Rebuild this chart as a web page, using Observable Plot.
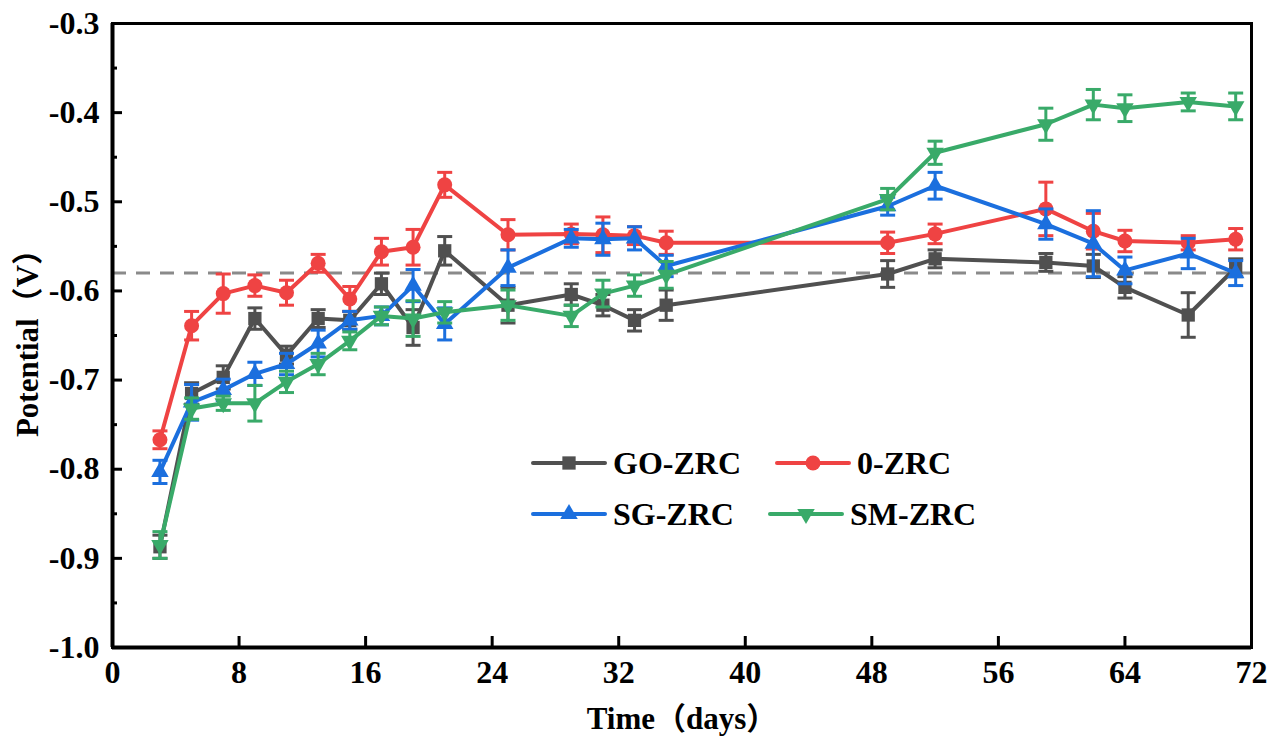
<!DOCTYPE html>
<html>
<head>
<meta charset="utf-8">
<script src="https://cdn.jsdelivr.net/npm/d3@7"></script>
<script src="https://cdn.jsdelivr.net/npm/@observablehq/plot@0.6"></script>
<style>
  html, body { margin: 0; padding: 0; background: #fff; }
  #wrap { position: relative; width: 1277px; height: 746px; }
  .leg { position: absolute; display: flex; align-items: center; height: 40px;
         font-family: 'Liberation Serif', 'Times New Roman', serif; font-weight: bold; font-size: 32px; color: #000; }
  .leg svg { display: block; }
</style>
</head>
<body>
<div id="wrap"></div>
<script>
// ---- data ----
const days = [3, 5, 7, 9, 11, 13, 15, 17, 19, 21, 25, 29, 31, 33, 35, 49, 52, 59, 62, 64, 68, 71];

const goZRC    = [-0.887, -0.715, -0.697, -0.631, -0.672, -0.631, -0.633, -0.592, -0.641, -0.555, -0.616, -0.604, -0.616, -0.633, -0.616, -0.581, -0.564, -0.568, -0.572, -0.596, -0.627, -0.574];
const goZRCErr = [0.013, 0.012, 0.013, 0.012, 0.010, 0.010, 0.010, 0.012, 0.020, 0.016, 0.020, 0.012, 0.012, 0.012, 0.017, 0.015, 0.010, 0.010, 0.013, 0.012, 0.025, 0.010];

const zeroZRC    = [-0.767, -0.639, -0.603, -0.594, -0.602, -0.569, -0.609, -0.556, -0.551, -0.481, -0.537, -0.536, -0.537, -0.538, -0.546, -0.546, -0.536, -0.508, -0.533, -0.544, -0.546, -0.542];
const zeroZRCErr = [0.010, 0.016, 0.022, 0.012, 0.014, 0.010, 0.014, 0.015, 0.020, 0.014, 0.017, 0.011, 0.020, 0.010, 0.013, 0.012, 0.011, 0.030, 0.020, 0.012, 0.008, 0.012];

const sgZRC    = [-0.803, -0.725, -0.711, -0.693, -0.682, -0.659, -0.633, -0.628, -0.594, -0.637, -0.574, -0.541, -0.542, -0.541, -0.572, -0.505, -0.482, -0.525, -0.547, -0.577, -0.558, -0.580];
const sgZRCErr = [0.013, 0.020, 0.012, 0.013, 0.012, 0.015, 0.010, 0.010, 0.018, 0.018, 0.020, 0.010, 0.018, 0.013, 0.012, 0.010, 0.015, 0.017, 0.037, 0.015, 0.017, 0.014];

const smZRC    = [-0.885, -0.732, -0.726, -0.726, -0.702, -0.682, -0.656, -0.628, -0.631, -0.624, -0.616, -0.628, -0.603, -0.594, -0.582, -0.497, -0.445, -0.413, -0.391, -0.395, -0.388, -0.393];
const smZRCErr = [0.015, 0.012, 0.008, 0.020, 0.012, 0.012, 0.010, 0.010, 0.020, 0.012, 0.017, 0.012, 0.015, 0.012, 0.015, 0.012, 0.013, 0.018, 0.017, 0.015, 0.010, 0.015];

const seriesNames = ["GO-ZRC", "0-ZRC", "SG-ZRC", "SM-ZRC"];
const referenceLevel = -0.58;

const xTicks = [0, 8, 16, 24, 32, 40, 48, 56, 64, 72];
const yTicks = [-1.0, -0.9, -0.8, -0.7, -0.6, -0.5, -0.4, -0.3];
const yMinorTicks = [-0.95, -0.85, -0.75, -0.65, -0.55, -0.45, -0.35];
const xLabel = "Time（days）";
const yLabel = "Potential（V）";

// ---- styles ----
const styles = {
  "GO-ZRC": {color: "#505050", symbol: "square", r: 7.5, rotate: 0},
  "0-ZRC":  {color: "#EF4343", symbol: "circle", r: 7.5, rotate: 0},
  "SG-ZRC": {color: "#1B6FDE", symbol: "triangle", r: 6.5, rotate: 0},
  "SM-ZRC": {color: "#39AA69", symbol: "triangle", r: 6.5, rotate: 180}
};

const valueSets = [[goZRC, goZRCErr], [zeroZRC, zeroZRCErr], [sgZRC, sgZRCErr], [smZRC, smZRCErr]];
const tables = seriesNames.map((name, i) => days.map((d, j) => ({
  series: name, day: d, v: valueSets[i][0][j], e: valueSets[i][1][j]
})));

const capSymbol = {
  draw(context, size) {
    const w = 7.5;
    context.moveTo(-w, 0);
    context.lineTo(w, 0);
  }
};

const FONT = "'Liberation Serif', 'Noto Sans CJK SC', serif";

const seriesMarks = tables.flatMap((t) => {
  const s = styles[t[0].series];
  return [
    Plot.line(t, {x: "day", y: "v", stroke: s.color, strokeWidth: 4}),
    Plot.ruleX(t, {x: "day", y1: d => d.v - d.e, y2: d => d.v + d.e, stroke: s.color, strokeWidth: 3}),
    Plot.dot(t, {x: "day", y: d => d.v - d.e, symbol: capSymbol, stroke: s.color, strokeWidth: 3, fill: "none"}),
    Plot.dot(t, {x: "day", y: d => d.v + d.e, symbol: capSymbol, stroke: s.color, strokeWidth: 3, fill: "none"}),
    Plot.dot(t, {x: "day", y: "v", symbol: s.symbol, r: s.r, rotate: s.rotate, fill: s.color, stroke: "none"})
  ];
});

const chart = Plot.plot({
  width: 1277,
  height: 746,
  marginLeft: 112,
  marginRight: 26,
  marginTop: 23,
  marginBottom: 99,
  style: {fontFamily: FONT, fontWeight: "bold", fontSize: "32px", color: "#000", background: "#fff"},
  x: {domain: [0, 72]},
  y: {domain: [-1.0, -0.3]},
  marks: [
    Plot.ruleY([referenceLevel], {stroke: "#8a8a8a", strokeWidth: 3, strokeDasharray: "14,10"}),
    ...seriesMarks,
    Plot.frame({stroke: "#000", strokeWidth: 3}),
    Plot.axisX(xTicks, {tickSize: -11, tickFormat: () => "", strokeWidth: 3, label: null}),
    Plot.axisX(xTicks, {tickSize: 0, tickPadding: 13, tickFormat: d => String(d), fontSize: 32, fontWeight: "bold", label: null}),
    Plot.axisY(yTicks, {tickSize: -10, tickFormat: () => "", strokeWidth: 3, label: null}),
    Plot.axisY(yMinorTicks, {tickSize: -5, tickFormat: () => "", strokeWidth: 3, label: null}),
    Plot.axisY(yTicks, {tickSize: 0, tickPadding: 13, tickFormat: d => d.toFixed(1), fontSize: 32, fontWeight: "bold", label: null}),
    Plot.text([xLabel], {frameAnchor: "bottom", textAnchor: "middle", dy: 81, fontSize: 31, fontWeight: "bold", fontFamily: FONT, fill: "#000"}),
    Plot.text([yLabel], {frameAnchor: "left", textAnchor: "middle", dx: -84, rotate: -90, fontSize: 31, fontWeight: "bold", fontFamily: FONT, fill: "#000"}),
    Plot.ruleX([0], {stroke: "#000", strokeWidth: 4}),
    Plot.ruleY([-1.0], {stroke: "#000", strokeWidth: 4})
  ]
});

const wrap = document.getElementById("wrap");
wrap.appendChild(chart);

// ---- legend (HTML overlay) ----
const legendLayout = [
  {name: "GO-ZRC", left: 531, top: 463, lineW: 76, textGap: 6},
  {name: "0-ZRC",  left: 775, top: 463, lineW: 76, textGap: 6},
  {name: "SG-ZRC", left: 531, top: 514, lineW: 76, textGap: 6},
  {name: "SM-ZRC", left: 768, top: 514, lineW: 76, textGap: 6}
];
for (const item of legendLayout) {
  const s = styles[item.name];
  const div = document.createElement("div");
  div.className = "leg";
  div.style.left = item.left + "px";
  div.style.top = (item.top - 20) + "px";
  const svgNS = "http://www.w3.org/2000/svg";
  const svg = document.createElementNS(svgNS, "svg");
  svg.setAttribute("width", item.lineW);
  svg.setAttribute("height", 40);
  const line = document.createElementNS(svgNS, "line");
  line.setAttribute("x1", 2); line.setAttribute("x2", item.lineW - 2);
  line.setAttribute("y1", 20); line.setAttribute("y2", 20);
  line.setAttribute("stroke", s.color); line.setAttribute("stroke-width", 4);
  line.setAttribute("stroke-linecap", "round");
  svg.appendChild(line);
  const sym = {square: d3.symbolSquare, circle: d3.symbolCircle, triangle: d3.symbolTriangle}[s.symbol];
  const p = document.createElementNS(svgNS, "path");
  p.setAttribute("d", d3.symbol(sym, Math.PI * s.r * s.r)());
  p.setAttribute("fill", s.color);
  p.setAttribute("transform", `translate(${item.lineW / 2},20) rotate(${s.rotate})`);
  svg.appendChild(p);
  div.appendChild(svg);
  const span = document.createElement("span");
  span.textContent = item.name;
  span.style.marginLeft = item.textGap + "px";
  div.appendChild(span);
  wrap.appendChild(div);
}
</script>
</body>
</html>
